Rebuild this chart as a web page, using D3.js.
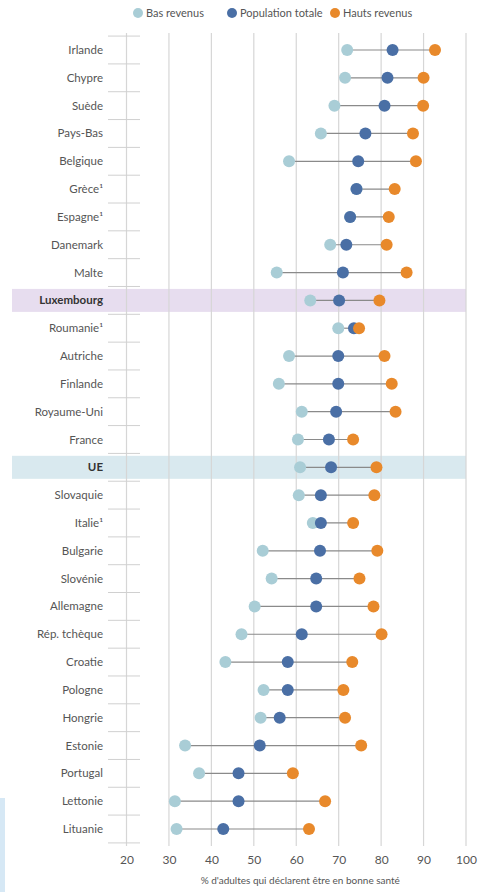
<!DOCTYPE html>
<html lang="fr">
  <head>
    <meta charset="utf-8">
    <title>Bonne santé par revenu</title>
    <script src="https://d3js.org/d3.v7.min.js"></script>
    <style>
      body { margin: 0; background: #fff; }
      text { font-family: Lato, "Open Sans", sans-serif; }
    </style>
  </head>
  <body>
    <script type="text/javascript">

      var w = 479;
      var h = 892;

      var pays = ["Irlande", "Chypre", "Suède", "Pays-Bas", "Belgique", "Grèce¹", "Espagne¹",
                  "Danemark", "Malte", "Luxembourg", "Roumanie¹", "Autriche", "Finlande",
                  "Royaume-Uni", "France", "UE", "Slovaquie", "Italie¹", "Bulgarie", "Slovénie",
                  "Allemagne", "Rép. tchèque", "Croatie", "Pologne", "Hongrie", "Estonie",
                  "Portugal", "Lettonie", "Lituanie"];
      var basRevenus = [72, 71.5, 69, 65.8, 58.3, 74.2, 72.7, 68, 55.4, 63.3, 69.9, 58.3, 55.9,
                        61.3, 60.4, 60.9, 60.6, 63.9, 52.1, 54.2, 50.2, 47.1, 43.3, 52.3, 51.6,
                        33.8, 37.1, 31.4, 31.8];
      var populationTotale = [82.7, 81.5, 80.8, 76.3, 74.6, 74.2, 72.7, 71.8, 71, 70.1, 73.6, 69.9,
                              69.9, 69.4, 67.7, 68.2, 65.8, 65.8, 65.6, 64.7, 64.7, 61.3, 58, 58,
                              56.1, 51.4, 46.4, 46.4, 42.8];
      var hautsRevenus = [92.7, 90, 89.9, 87.5, 88.2, 83.2, 81.8, 81.3, 86, 79.6, 74.8, 80.8, 82.5,
                          83.4, 73.4, 78.9, 78.4, 73.4, 79.1, 74.9, 78.2, 80.1, 73.2, 71.1, 71.5,
                          75.3, 59.2, 66.8, 63];
      var ticks = [20, 30, 40, 50, 60, 70, 80, 90, 100];
      var series = ["Bas revenus", "Population totale", "Hauts revenus"];
      var highlights = {"Luxembourg": "#e7ddef", "UE": "#d9e9ef"};

      var colors = ["#a9cdd6", "#4a6fa5", "#e8892b"];

      var rows = pays.map(function(p, i) {
        return {pays: p, vals: [basRevenus[i], populationTotale[i], hautsRevenus[i]]};
      });

      var xScale = d3.scaleLinear().domain([20, 100]).range([126.5, 466]);
      var yScale = d3.scalePoint().domain(pays).range([50, 829]);
      var step = yScale.step();

      var svg = d3.select("body").append("svg")
          .attr("width", w)
          .attr("height", h);

      // petite bande bleue en bas à gauche
      svg.append("rect")
          .attr("x", 0).attr("y", 798).attr("width", 5).attr("height", h - 798)
          .attr("fill", "#d6e8f5");

      // bandes de mise en évidence
      svg.append("g").selectAll("rect")
          .data(rows.filter(function(d) { return highlights[d.pays]; }))
          .enter().append("rect")
          .attr("x", 12)
          .attr("y", function(d) { return yScale(d.pays) - 11.5; })
          .attr("width", xScale(100) - 12)
          .attr("height", 23)
          .attr("fill", function(d) { return highlights[d.pays]; });

      // grille verticale
      svg.append("g").selectAll("line")
          .data(ticks)
          .enter().append("line")
          .attr("x1", function(d) { return xScale(d); })
          .attr("x2", function(d) { return xScale(d); })
          .attr("y1", 33)
          .attr("y2", 846)
          .attr("stroke", "#d6d6d6")
          .attr("stroke-width", 1.2);

      // séparateurs entre les lignes
      svg.append("g").selectAll("line")
          .data(pays.concat(["_fin"]))
          .enter().append("line")
          .attr("x1", 108)
          .attr("x2", 140)
          .attr("y1", function(d, i) { return 50 + (i - 0.5) * step; })
          .attr("y2", function(d, i) { return 50 + (i - 0.5) * step; })
          .attr("stroke", "#d0d0d0")
          .attr("stroke-width", 1);

      // axe x
      var xAxis = d3.axisBottom(xScale).tickValues(ticks).tickSize(0).tickPadding(0);
      var gx = svg.append("g")
          .attr("transform", "translate(0, 855)")
          .call(xAxis);
      gx.select(".domain").remove();
      gx.selectAll("text")
          .attr("fill", "#555")
          .attr("font-size", 12)
          .attr("font-family", "Lato, sans-serif")
          .attr("dy", "0.71em");

      svg.append("text")
          .attr("x", xScale(60) + 4)
          .attr("y", 884)
          .attr("text-anchor", "middle")
          .attr("fill", "#555")
          .attr("font-size", 10)
          .text("% d'adultes qui déclarent être en bonne santé");

      // libellés des pays
      svg.append("g").selectAll("text")
          .data(rows)
          .enter().append("text")
          .attr("x", 103)
          .attr("y", function(d) { return yScale(d.pays); })
          .attr("dy", "0.35em")
          .attr("text-anchor", "end")
          .attr("font-size", 11.5)
          .attr("font-weight", function(d) { return highlights[d.pays] ? "bold" : "normal"; })
          .attr("fill", function(d) { return highlights[d.pays] ? "#333" : "#555"; })
          .text(function(d) { return d.pays; });

      // segments
      svg.append("g").selectAll("line")
          .data(rows)
          .enter().append("line")
          .attr("x1", function(d) { return xScale(d3.min(d.vals)); })
          .attr("x2", function(d) { return xScale(d3.max(d.vals)); })
          .attr("y1", function(d) { return yScale(d.pays); })
          .attr("y2", function(d) { return yScale(d.pays); })
          .attr("stroke", "#8a8a8a")
          .attr("stroke-width", 1.2);

      // points
      series.forEach(function(s, k) {
        svg.append("g").selectAll("circle")
            .data(rows)
            .enter().append("circle")
            .attr("cx", function(d) { return xScale(d.vals[k]); })
            .attr("cy", function(d) { return yScale(d.pays); })
            .attr("r", 6)
            .attr("fill", colors[k]);
      });

      // légende
      var legX = [138, 232, 335];
      var leg = svg.append("g").selectAll("g")
          .data(series)
          .enter().append("g")
          .attr("transform", function(d, i) { return "translate(" + legX[i] + ", 13)"; });
      leg.append("circle")
          .attr("r", 5)
          .attr("fill", function(d, i) { return colors[i]; });
      leg.append("text")
          .attr("x", 8)
          .attr("dy", "0.35em")
          .attr("font-size", 11)
          .attr("fill", "#555")
          .text(function(d) { return d; });

    </script>
  </body>
</html>
